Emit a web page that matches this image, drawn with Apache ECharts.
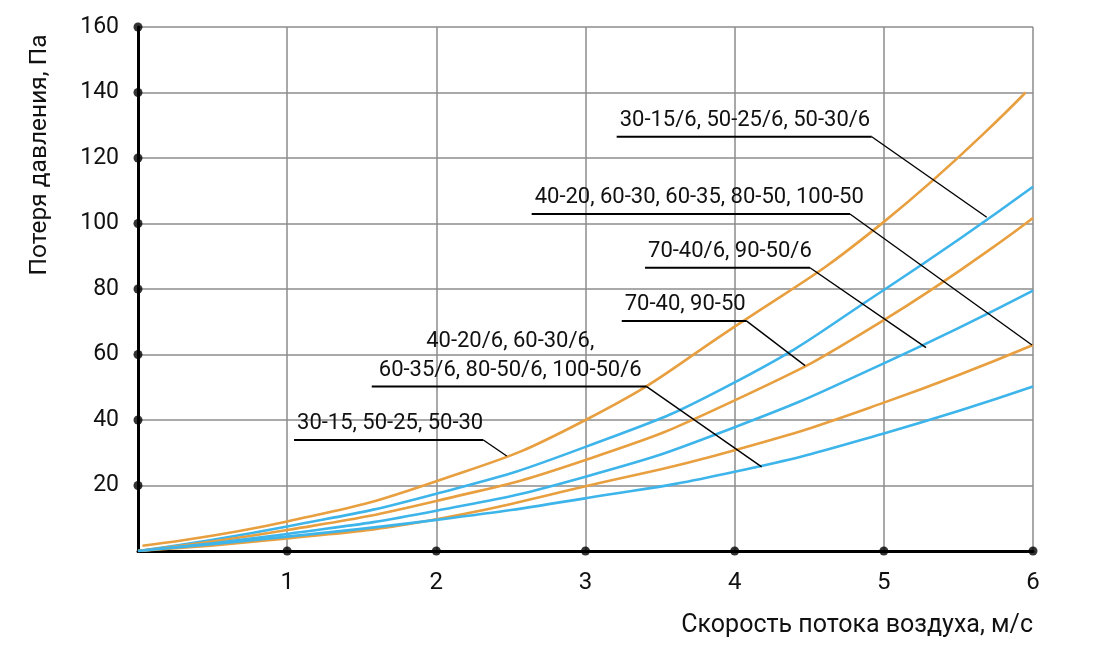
<!DOCTYPE html>
<html><head><meta charset="utf-8">
<script src="https://cdn.jsdelivr.net/npm/echarts@6/dist/echarts.min.js"></script>
<style>html,body{margin:0;padding:0;background:#fff}#c{width:1103px;height:662px}</style>
</head><body><div id="c"></div>
<script>
// ---- data ----
const xTicks = [1, 2, 3, 4, 5, 6];
const yTicks = [20, 40, 60, 80, 100, 120, 140, 160];
const xAxisName = 'Скорость потока воздуха, м/с';
const yAxisName = 'Потеря давления, Па';

const curveA = [[0.03, 1.6], [1, 9.0], [2, 21.3], [3, 40], [4, 68.5], [5, 100.5], [5.95, 140]];
const curveB = [[0, 0], [1, 7.5], [2, 17.5], [3, 31.8], [4, 51.5], [5, 79.7], [6, 111.2]];
const curveC = [[0, 0], [1, 6.4], [2, 15.3], [3, 27.8], [4, 46.0], [5, 70.5], [6, 101.7]];
const curveD = [[0, 0], [1, 5.2], [2, 12.3], [3, 22.7], [4, 37.8], [5, 57.3], [6, 79.5]];
const curveE = [[0, 0], [1, 3.8], [2, 9.7], [3, 19.8], [4, 30.8], [5, 45.3], [6, 62.9]];
const curveF = [[0, 0], [1, 4.4], [2, 9.5], [3, 16.1], [4, 24.2], [5, 35.9], [6, 50.2]];

const labelA = '30-15, 50-25, 50-30';
const labelB = '30-15/6, 50-25/6, 50-30/6';
const labelC = '70-40, 90-50';
const labelD = '70-40/6, 90-50/6';
const labelE = '40-20, 60-30, 60-35, 80-50, 100-50';
const labelF = '40-20/6, 60-30/6,\n60-35/6, 80-50/6, 100-50/6';

// ---- styling / layout ----
const ORANGE = '#E89F3F';
const BLUE = '#3DB4EA';
const FONT = 'Roboto, "DejaVu Sans", sans-serif';

// callout layout in data coordinates: underline [x0, x1, y], tip [x, y]
const callouts = [
  { text: labelA, under: [1.046, 2.315, 33.9], tip: [2.472, 29.0], align: 'left' },
  { text: labelB, under: [3.209, 4.919, 126.5], tip: [5.690, 101.9], align: 'left' },
  { text: labelC, under: [3.243, 4.081, 70.2], tip: [4.472, 56.6], align: 'left' },
  { text: labelD, under: [3.399, 4.505, 86.5], tip: [5.283, 62.1], align: 'left' },
  { text: labelE, under: [2.639, 4.773, 102.9], tip: [5.993, 62.9], align: 'left' },
  { text: labelF, under: [1.567, 3.410, 50.2], tip: [4.181, 25.7], align: 'center' }
];

const chart = echarts.init(document.getElementById('c'), null, { renderer: 'canvas' });

function lineSeries(data, color) {
  return {
    type: 'line', data: data, smooth: 0.5, showSymbol: false,
    lineStyle: { color: color, width: 2.6 }, z: 3, silent: true
  };
}

const dotData = yTicks.map(v => [0, v]).concat(xTicks.map(v => [v, 0]));

chart.setOption({
  animation: false,
  backgroundColor: '#fff',
  grid: { left: 138, right: 70, top: 27, bottom: 111 },
  xAxis: {
    type: 'value', min: 0, max: 6, interval: 1,
    axisLine: { lineStyle: { color: '#000', width: 3 } },
    axisTick: { show: false },
    axisLabel: {
      margin: 20, color: '#111', fontSize: 24, fontFamily: FONT,
      formatter: v => (v === 0 ? '' : String(v))
    },
    splitLine: { show: true, lineStyle: { color: '#8c8c8c', width: 1.5 } }
  },
  yAxis: {
    type: 'value', min: 0, max: 160, interval: 20,
    axisLine: { show: true, lineStyle: { color: '#000', width: 3 } },
    axisTick: { show: false },
    axisLabel: {
      margin: 19, color: '#111', fontSize: 23, fontFamily: FONT,
      formatter: v => (v === 0 ? '' : String(v))
    },
    splitLine: { show: true, lineStyle: { color: '#8c8c8c', width: 1.5 } }
  },
  series: [
    lineSeries(curveA, ORANGE),
    lineSeries(curveB, BLUE),
    lineSeries(curveC, ORANGE),
    lineSeries(curveD, BLUE),
    lineSeries(curveE, ORANGE),
    lineSeries(curveF, BLUE),
    {
      type: 'scatter', data: dotData, symbolSize: 9, clip: false, silent: true,
      itemStyle: { color: '#000' }, z: 5
    }
  ]
});

const graphics = [];
callouts.forEach(c => {
  const p0 = chart.convertToPixel({ gridIndex: 0 }, [c.under[0], c.under[2]]);
  const p1 = chart.convertToPixel({ gridIndex: 0 }, [c.under[1], c.under[2]]);
  const pt = chart.convertToPixel({ gridIndex: 0 }, c.tip);
  graphics.push({
    type: 'polyline', silent: true, z: 10,
    shape: { points: [p0, p1] },
    style: { stroke: '#000', lineWidth: 2, fill: null }
  });
  graphics.push({
    type: 'line', silent: true, z: 10,
    shape: { x1: p1[0], y1: p1[1], x2: pt[0], y2: pt[1] },
    style: { stroke: '#000', lineWidth: 1.4 }
  });
  const tx = c.align === 'center' ? (p0[0] + p1[0]) / 2 + 1 : p0[0] + 3;
  graphics.push({
    type: 'text', silent: true, z: 11,
    x: tx, y: p0[1] - 2,
    style: {
      text: c.text, fill: '#111', font: '22px ' + FONT,
      align: c.align, verticalAlign: 'bottom', lineHeight: 29
    }
  });
});
graphics.push({
  type: 'text', silent: true, z: 11, x: 40, y: 155, rotation: Math.PI / 2,
  style: { text: yAxisName, fill: '#111', font: '24.5px ' + FONT, align: 'center', verticalAlign: 'middle' }
});
graphics.push({
  type: 'text', silent: true, z: 11, x: 1033, y: 638,
  style: { text: xAxisName, fill: '#111', font: '25px ' + FONT, align: 'right', verticalAlign: 'bottom' }
});
chart.setOption({ graphic: graphics });
</script>
</body></html>
